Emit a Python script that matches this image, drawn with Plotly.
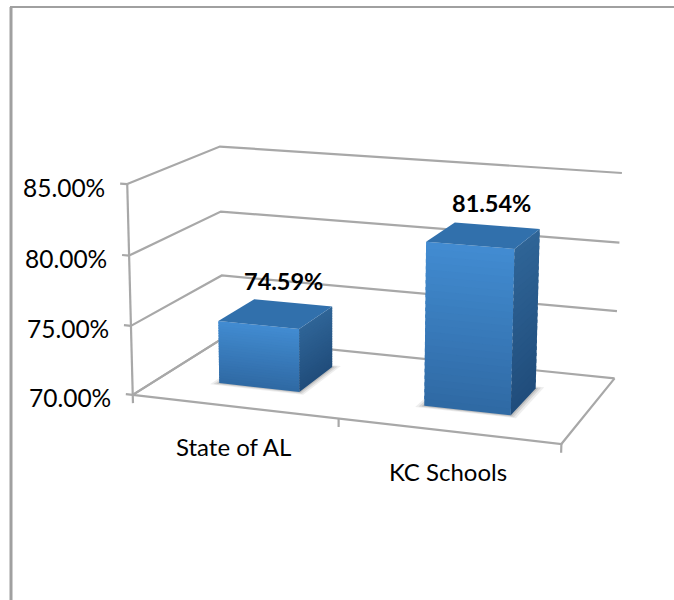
import numpy as np
import plotly.graph_objects as go

# ---- chart data ----
categories = ["State of AL", "KC Schools"]
values = [74.59, 81.54]
value_labels = ["74.59%", "81.54%"]
tick_values = [70, 75, 80, 85]
tick_labels = ["70.00%", "75.00%", "80.00%", "85.00%"]

# ---- 3D view: x in category units, y = depth 0..1, z = value ----
W, H = 674, 600
VIEW = [((0,0,70),(135,394)),((0,0,85),(127,184)),((0,0,75),(130,325)),((0,0,80),(128,256)),
        ((2,0,70),(561,445)),((1,0,70),(339,419)),((2,1,70),(615,377)),((0,1,70),(220,340)),
        ((0,1,75),(223,275)),((0,1,80),(222,211)),((0,1,85),(220,147)),((2,1,85),(622,173)),
        ((2,1,80),(619,243)),((2,1,75),(617,311))]
rows = []
for (a, b, c), (u, v) in VIEW:
    s = [a, b, (c - 70) / 15, 1]
    rows.append(s + [0, 0, 0, 0] + [-u * t for t in s])
    rows.append([0, 0, 0, 0] + s + [-v * t for t in s])
M = np.linalg.svd(np.array(rows, float))[2][-1].reshape(3, 4)

def project(x, y, z):
    q = M @ np.array([x, y, (z - 70) / 15, 1.0])
    return q[0] / q[2], q[1] / q[2]

GRID = "#A8A8A8"
FONT = "Lato"
fig = go.Figure()

def polyline(points, color=GRID, width=2.2):
    uv = [project(*p) for p in points]
    fig.add_trace(go.Scatter(x=[a for a, _ in uv], y=[b for _, b in uv], mode="lines",
                             line=dict(color=color, width=width), hoverinfo="skip", showlegend=False))

def polygon(points, color, opacity=1.0):
    uv = [project(*p) for p in points]
    uv.append(uv[0])
    fig.add_trace(go.Scatter(x=[a for a, _ in uv], y=[b for _, b in uv], mode="lines", fill="toself",
                             fillcolor=color, line=dict(width=0, simplify=False), opacity=opacity,
                             hoverinfo="skip", showlegend=False))

def mix(c0, c1, t):
    a = [int(c0[i:i+2], 16) for i in (1, 3, 5)]
    b = [int(c1[i:i+2], 16) for i in (1, 3, 5)]
    return "#" + "".join(f"{round(p + (q - p) * t):02X}" for p, q in zip(a, b))

# gridlines on the walls, axis lines, tick marks
for t in tick_values:
    polyline([(0, 0, t), (0, 1, t), (2, 1, t)])
    polyline([(-0.035, 0, t), (0, 0, t)])
polyline([(0, 0, 70), (0, 0, 85)])
polyline([(0, 1, 70), (0, 0, 70), (2, 0, 70), (2, 1, 70)])
for i in range(len(categories) + 1):
    polyline([(i, 0, 70), (i, 0, 69.4)])

# bars
X0, X1, Y0, Y1 = 0.295, 0.695, 0.30, 0.72
STRIPS = 24
for i, v in enumerate(values):
    x0, x1 = i + X0, i + X1
    for grow, op in [(0.032, 0.10), (0.02, 0.14), (0.009, 0.2)]:
        polygon([(x0 - grow, Y0 - grow, 70), (x1 + grow, Y0 - grow, 70),
                 (x1 + grow, Y1 + grow, 70), (x0 - grow, Y1 + grow, 70)], "#555555", op)
    for s in range(STRIPS):
        z0 = 70 + (v - 70) * s / STRIPS
        z1 = min(v, 70 + (v - 70) * (s + 1.5) / STRIPS)
        t = (s + 0.5) / STRIPS
        polygon([(x0, Y0, z0), (x1, Y0, z0), (x1, Y0, z1), (x0, Y0, z1)], mix("#2F69A3", "#428CD2", t))
        polygon([(x1, Y0, z0), (x1, Y1, z0), (x1, Y1, z1), (x1, Y0, z1)], mix("#204D7B", "#2F6497", t))
    polygon([(x0, Y0, v), (x1, Y0, v), (x1, Y1, v), (x0, Y1, v)], "#3170AC")

# text
ann = []
def label(pos, text, dx, dy, size, anchor="center", bold=False):
    u, v_ = project(*pos)
    ann.append(dict(x=u, y=v_, xref="x", yref="y", text=f"<b>{text}</b>" if bold else text, showarrow=False,
                    xanchor=anchor, yanchor="middle", xshift=dx, yshift=-dy,
                    font=dict(family=FONT, size=size, color="#000000")))
for t, l in zip(tick_values, tick_labels):
    label((0, 0, t), l, -20, 3, 24.5, "right")
for i, c in enumerate(categories):
    label((i + 0.5, 0, 70), c, 0, 40 + i, 24)
for i, l in enumerate(value_labels):
    label((i + 0.5, 0.5, values[i]), l, 7, -33, 23.5, bold=True)

hide = dict(visible=False, showgrid=False, zeroline=False)
fig.update_layout(
    width=W, height=H, margin=dict(l=0, r=0, t=0, b=0), paper_bgcolor="white", plot_bgcolor="white",
    showlegend=False, annotations=ann,
    xaxis=dict(range=[0, W], **hide), yaxis=dict(range=[H, 0], **hide),
    shapes=[dict(type="line", xref="x", yref="y", x0=11, x1=11, y0=7, y1=H, line=dict(color="#A0A0A0", width=3)),
            dict(type="line", xref="x", yref="y", x0=10, x1=W, y0=7, y1=7, line=dict(color="#A0A0A0", width=2))],
)
fig.write_html("out.html", post_script="document.body.style.margin='0';", config=dict(displayModeBar=False))
